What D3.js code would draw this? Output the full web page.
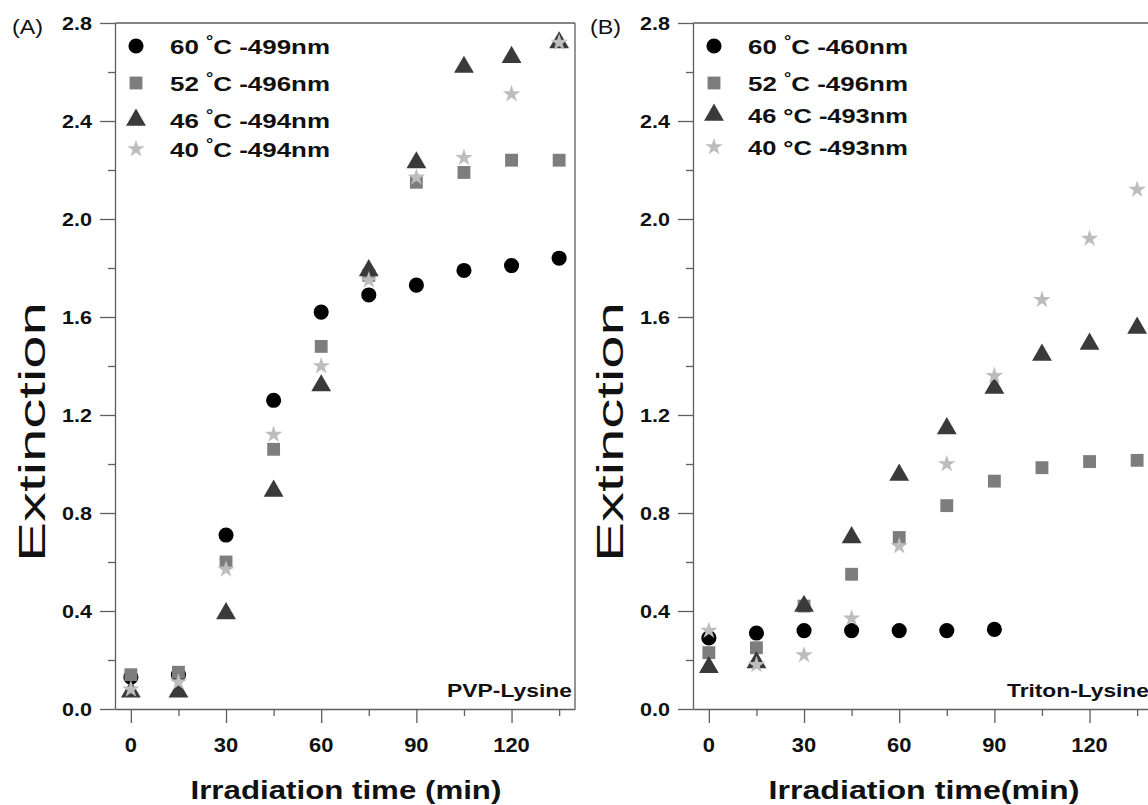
<!DOCTYPE html>
<html>
<head>
<meta charset="utf-8">
<script src="https://cdn.jsdelivr.net/npm/d3@7"></script>
<style>
  body { margin: 0; background: #fff; }
  svg { display: block; }
</style>
</head>
<body>
<script>
// Irradiation times (min)
const times = [0, 15, 30, 45, 60, 75, 90, 105, 120, 135];
const timesTriton60 = [0, 15, 30, 45, 60, 75, 90];

// Panel A — PVP-Lysine extinction
const pvp60 = [0.13, 0.14, 0.71, 1.26, 1.62, 1.69, 1.73, 1.79, 1.81, 1.84];
const pvp52 = [0.14, 0.15, 0.60, 1.06, 1.48, 1.77, 2.15, 2.19, 2.24, 2.24];
const pvp46 = [0.07, 0.07, 0.39, 0.89, 1.32, 1.79, 2.23, 2.62, 2.66, 2.72];
const pvp40 = [0.08, 0.11, 0.57, 1.12, 1.40, 1.75, 2.17, 2.25, 2.51, 2.72];

// Panel B — Triton-Lysine extinction
const triton60 = [0.29, 0.31, 0.32, 0.32, 0.32, 0.32, 0.325];
const triton52 = [0.23, 0.25, 0.42, 0.55, 0.70, 0.83, 0.93, 0.985, 1.01, 1.015];
const triton46 = [0.17, 0.19, 0.42, 0.70, 0.955, 1.145, 1.31, 1.445, 1.49, 1.555];
const triton40 = [0.32, 0.18, 0.22, 0.37, 0.665, 1.00, 1.36, 1.67, 1.92, 2.12];

// Legend text
const temps = ["60", "52", "46", "40"];
const wavelengthsA = ["-499nm", "-496nm", "-494nm", "-494nm"];
const wavelengthsB = ["-460nm", "-496nm", "-493nm", "-493nm"];
const raisedDegreeA = [true, true, true, true];
const raisedDegreeB = [true, true, false, false];

// Axis ticks
const yMajor = [0, 0.4, 0.8, 1.2, 1.6, 2.0, 2.4, 2.8];
const yMinor = [0.2, 0.6, 1.0, 1.4, 1.8, 2.2, 2.6];
const xMajor = [0, 30, 60, 90, 120];
const xMinor = [15, 45, 75, 105, 135];

const W = 1148, H = 805;
const FONT = "'Liberation Sans', Arial, Helvetica, sans-serif";
const AXIS = "#5e5e5e";

const markers = [
  { type: d3.symbolCircle,   size: 180, fill: "#000000" },
  { type: d3.symbolSquare,   size: 165, fill: "#7d7d7d" },
  { type: d3.symbolTriangle, size: 170, fill: "#3a3a3a" },
  { type: d3.symbolStar,     size: 95,  fill: "#bdbdbd" }
];

const svg = d3.select("body").append("svg")
  .attr("width", W).attr("height", H)
  .style("font-family", FONT);

// Place a text horizontally scaled so that it spans a given width
function fitText(sel, width, anchor) {
  const node = sel.node();
  const w = node.getComputedTextLength();
  const sx = width / w;
  const x = +sel.attr("data-x"), y = +sel.attr("data-y");
  let dx = 0;
  if (anchor === "middle") dx = -width / 2;
  if (anchor === "end") dx = -width;
  sel.attr("text-anchor", "start")
     .attr("transform", `translate(${x + dx},${y}) scale(${sx},1)`);
  return sel;
}

function addText(g, str, x, y, opts) {
  const t = g.append("text")
    .attr("data-x", x).attr("data-y", y)
    .attr("font-size", opts.size)
    .attr("font-weight", opts.weight || "bold")
    .attr("fill", opts.fill || "#111")
    .text(str);
  return t;
}

function panel(cfg) {
  const g = svg.append("g");
  const x = d3.scaleLinear().domain([-5, 140]).range([cfg.x0, cfg.x1]);
  const y = d3.scaleLinear().domain([0, 2.8]).range([709, 23]);

  // Left axis: major and minor ticks
  g.append("g").attr("transform", `translate(${cfg.x0},0)`)
    .call(d3.axisLeft(y).tickValues(yMajor).tickSize(15).tickSizeOuter(0).tickFormat(""))
    .call(a => a.selectAll("line,path").attr("stroke", AXIS).attr("stroke-width", 1.3));
  g.append("g").attr("transform", `translate(${cfg.x0},0)`)
    .call(d3.axisLeft(y).tickValues(yMinor).tickSize(7).tickSizeOuter(0).tickFormat(""))
    .call(a => a.select(".domain").remove())
    .call(a => a.selectAll("line").attr("stroke", AXIS).attr("stroke-width", 1.3));

  // Bottom axis: major and minor ticks
  g.append("g").attr("transform", `translate(0,${y(0)})`)
    .call(d3.axisBottom(x).tickValues(xMajor).tickSize(14).tickSizeOuter(0).tickFormat(""))
    .call(a => a.selectAll("line,path").attr("stroke", AXIS).attr("stroke-width", 1.3));
  g.append("g").attr("transform", `translate(0,${y(0)})`)
    .call(d3.axisBottom(x).tickValues(xMinor).tickSize(7).tickSizeOuter(0).tickFormat(""))
    .call(a => a.select(".domain").remove())
    .call(a => a.selectAll("line").attr("stroke", AXIS).attr("stroke-width", 1.3));

  // Frame: top and right edges
  g.append("line").attr("x1", cfg.x0).attr("x2", cfg.x1)
    .attr("y1", y(2.8)).attr("y2", y(2.8))
    .attr("stroke", AXIS).attr("stroke-width", 1.3);
  g.append("line").attr("x1", cfg.x1).attr("x2", cfg.x1)
    .attr("y1", y(2.8)).attr("y2", y(0))
    .attr("stroke", AXIS).attr("stroke-width", 1.3);

  // Tick labels
  yMajor.forEach(v => {
    const t = addText(g, d3.format(".1f")(v), cfg.x0 - 23, y(v) + 7, { size: 19 });
    fitText(t, 30, "end");
  });
  xMajor.forEach(v => {
    const t = addText(g, String(v), x(v), 752, { size: 20 });
    fitText(t, String(v).length * 12.2, "middle");
  });

  // Axis titles
  const xt = addText(g, cfg.xTitle, (cfg.x0 + cfg.x1) / 2 + 1, 799, { size: 25 });
  fitText(xt, 311, "middle");
  const yt = g.append("text")
    .attr("font-size", 37).attr("font-weight", "normal").attr("fill", "#111")
    .attr("text-anchor", "middle")
    .attr("transform", `translate(${cfg.x0 - 70},432) rotate(-90) scale(1.62,1)`)
    .text("Extinction");

  // Panel tag and sample name
  const tag = addText(g, cfg.tag, cfg.x0 - 103, 34, { size: 20, weight: "normal" });
  fitText(tag, 31, "start");
  const nm = addText(g, cfg.name, cfg.nameX, 697, { size: 18 });
  fitText(nm, cfg.nameW, "end");

  // Data points, drawn in series order so the lighter symbols sit on top
  cfg.series.forEach((s, i) => {
    const m = markers[i];
    const sym = d3.symbol().type(m.type).size(m.size);
    g.append("g").selectAll("path")
      .data(s.t.map((t, k) => ({ t, v: s.v[k] })))
      .join("path")
      .attr("d", sym)
      .attr("transform", d => `translate(${x(d.t)},${y(d.v)})`)
      .attr("fill", m.fill);
  });

  // Legend
  cfg.series.forEach((s, i) => {
    const m = markers[i];
    const ry = cfg.legendRows[i];
    g.append("path")
      .attr("d", d3.symbol().type(m.type).size(m.size)())
      .attr("transform", `translate(${cfg.x0 + 21},${ry})`)
      .attr("fill", m.fill);
    const t = g.append("text")
      .attr("data-x", cfg.x0 + 55).attr("data-y", ry + 8)
      .attr("font-size", 20).attr("font-weight", "bold").attr("fill", "#111");
    if (cfg.raised[i]) {
      t.append("tspan").text(temps[i] + " ");
      t.append("tspan").attr("font-size", 14).attr("dy", -8).text("°");
      t.append("tspan").attr("dy", 8).text("C " + cfg.waves[i]);
    } else {
      t.append("tspan").text(temps[i] + " °C " + cfg.waves[i]);
    }
    fitText(t, 160, "start");
  });
}

panel({
  x0: 115, x1: 575, tag: "(A)", name: "PVP-Lysine", nameX: 572, nameW: 125,
  xTitle: "Irradiation time (min)",
  waves: wavelengthsA, raised: raisedDegreeA,
  legendRows: [46, 83, 120, 149],
  series: [
    { t: times, v: pvp60 }, { t: times, v: pvp52 },
    { t: times, v: pvp46 }, { t: times, v: pvp40 }
  ]
});

panel({
  x0: 693, x1: 1153, tag: "(B)", name: "Triton-Lysine", nameX: 1149, nameW: 142,
  xTitle: "Irradiation time(min)",
  waves: wavelengthsB, raised: raisedDegreeB,
  legendRows: [46, 83, 115, 147],
  series: [
    { t: timesTriton60, v: triton60 }, { t: times, v: triton52 },
    { t: times, v: triton46 }, { t: times, v: triton40 }
  ]
});
</script>
</body>
</html>
